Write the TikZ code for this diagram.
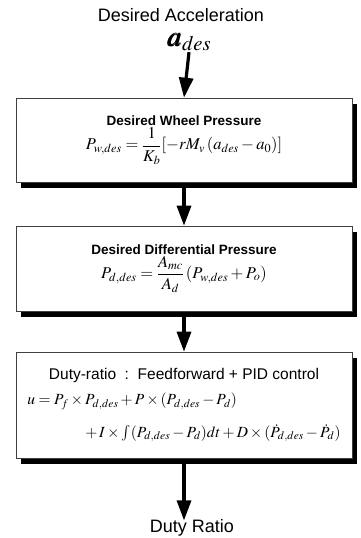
\documentclass[tikz,border=0pt]{standalone}
\usepackage{amsmath}
\usepackage{mathptmx}
\usepackage{bm}
\usepackage{fontspec}
\setmainfont{Liberation Serif}
\setsansfont{Liberation Sans}
\usepackage{tikz}
\usetikzlibrary{arrows.meta,positioning,shadows}
\tikzset{
  iolbl/.style={font=\sffamily\fontsize{18}{20}\selectfont,inner sep=1pt},
  flowbox/.style={draw=black!75,line width=0.6pt,fill=white,minimum width=336pt,
    align=center,inner sep=4pt,font=\fontsize{16.5}{19}\selectfont,
    drop shadow={shadow xshift=5pt,shadow yshift=-6pt,fill=black,opacity=1}},
  flowarrow/.style={-{Triangle[width=14pt,length=20pt]},line width=3.2pt,black},
}
\newcommand{\ttlfont}{\sffamily\bfseries\fontsize{13.5}{16}\selectfont}
\begin{document}
\begin{tikzpicture}[x=1pt,y=-1pt]
  \useasboundingbox (0,0) rectangle (361,538);
  \node[iolbl] (lblIn) at (181,15) {Desired Acceleration};
  \node[inner sep=1pt,font=\fontsize{28}{30}\selectfont] (nAdes) at (189,42) {$\bm{a}_{des}$};
  \node[flowbox,minimum height=84pt] (nWheel) at (184,140)
    {{\ttlfont Desired Wheel Pressure}\\[1pt]
     $P_{w,des}=\dfrac{1}{K_b}[-rM_v\,(a_{des}-a_0)]$};
  \node[flowbox,minimum height=85pt] (nDiff) at (184,268.5)
    {{\ttlfont Desired Differential Pressure}\\[1pt]
     $P_{d,des}=\dfrac{A_{mc}}{A_d}\,(P_{w,des}+P_o)$};
  \node[flowbox,minimum height=106pt,font=\fontsize{15.5}{18}\selectfont] (nDuty) at (184,405)
    {\begin{tabular}{@{}l@{}}
      \multicolumn{1}{c}{\sffamily\fontsize{15.5}{18}\selectfont Duty-ratio\ \ :\ \ Feedforward + PID control}\\[7pt]
      $u=P_f\times P_{d,des}+P\times(P_{d,des}-P_d)$\\[14pt]
      \hspace{58pt}$+\,I\times\int(P_{d,des}-P_d)dt+D\times(\dot{P}_{d,des}-\dot{P}_d)$
     \end{tabular}};
  \node[iolbl] (lblOut) at (192,528) {Duty Ratio};
  \draw[flowarrow] (nAdes.south) -- (nWheel.north);
  \draw[flowarrow] ([yshift=-6pt]nWheel.south) -- (nDiff.north);
  \draw[flowarrow] ([yshift=-6pt]nDiff.south) -- (nDuty.north);
  \draw[flowarrow] ([yshift=-6pt]nDuty.south) -- ([yshift=-2pt]lblOut.north -| nDuty.south);
\end{tikzpicture}
\end{document}
